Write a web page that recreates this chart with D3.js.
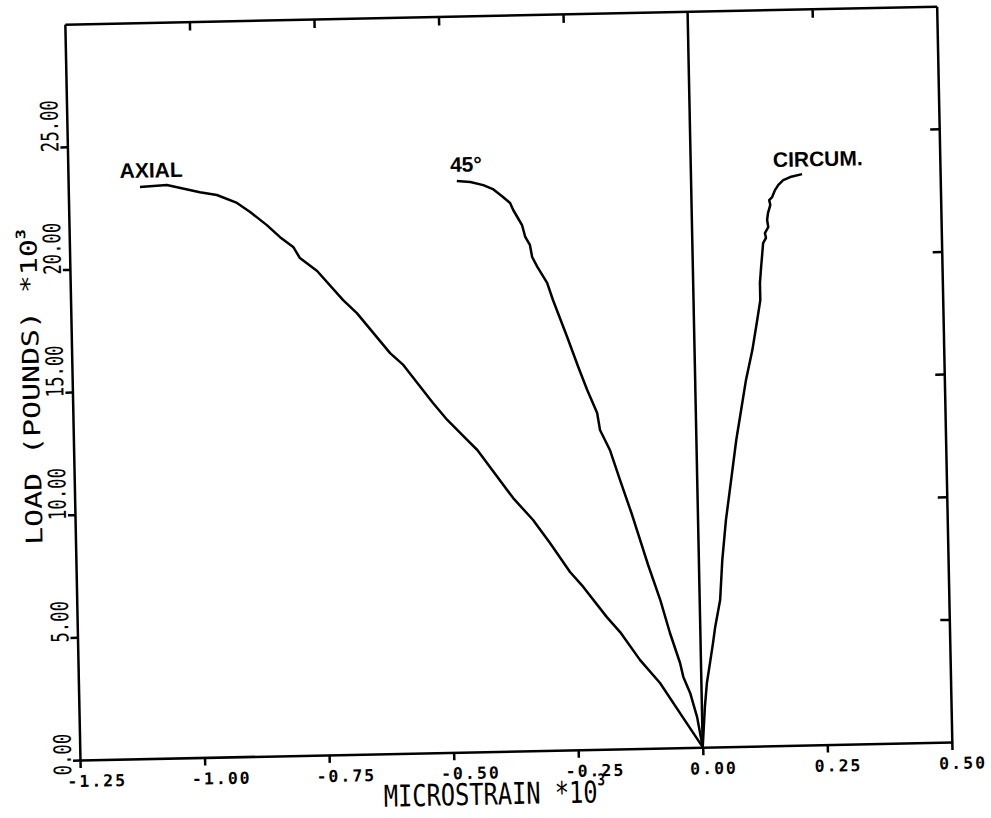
<!DOCTYPE html>
<html>
<head>
<meta charset="utf-8">
<script src="https://cdn.jsdelivr.net/npm/d3@7"></script>
<style>
  html, body { margin: 0; padding: 0; background: #fff; }
  svg { display: block; }
  .x-tick-label { font-family: "DejaVu Sans Mono", monospace; font-size: 16.5px; font-weight: bold; fill: #000; letter-spacing: 2px; }
  .y-tick-label { font-family: "DejaVu Sans Mono", monospace; font-size: 24px; fill: #000; }
  .axis-title { font-family: "DejaVu Sans Mono", monospace; fill: #000; }
  .curve-label { font-family: "Liberation Sans", Arial, sans-serif; font-size: 21px; font-weight: bold; fill: #000; }
</style>
</head>
<body>
<svg id="chart" width="991" height="818"></svg>
<script>
// Strain gauge readings: load (kips) against microstrain (x1000) for three gauge orientations
const axialStrain = [0, -0.038, -0.083, -0.122, -0.161, -0.187, -0.233, -0.259, -0.298, -0.331, -0.370, -0.440, -0.460, -0.499, -0.527, -0.585, -0.611, -0.676, -0.703, -0.754, -0.788, -0.801, -0.827, -0.853, -0.886, -0.912, -0.952, -0.986, -1.052, -1.106];
const axialLoad   = [0, 1.21, 2.65, 3.60, 4.76, 5.38, 6.63, 7.25, 8.45, 9.40, 10.31, 12.30, 12.72, 13.55, 14.25, 15.83, 16.32, 17.98, 18.52, 19.73, 20.27, 20.73, 21.14, 21.64, 22.19, 22.57, 22.91, 23.04, 23.36, 23.30];

const diagStrain = [0, -0.010, -0.023, -0.036, -0.042, -0.061, -0.079, -0.102, -0.132, -0.155, -0.174, -0.193, -0.198, -0.217, -0.234, -0.255, -0.282, -0.293, -0.312, -0.322, -0.326, -0.335, -0.341, -0.349, -0.358, -0.364, -0.378, -0.398, -0.417, -0.443, -0.470];
const diagLoad   = [0, 1.23, 2.22, 2.88, 3.45, 4.68, 6.03, 7.47, 9.52, 10.96, 12.19, 13.01, 13.71, 14.65, 15.60, 16.83, 18.35, 19.05, 19.71, 20.12, 20.61, 20.94, 21.43, 21.72, 22.05, 22.34, 22.59, 22.92, 23.09, 23.23, 23.28];

const circStrain = [0, 0.006, 0.011, 0.018, 0.025, 0.030, 0.041, 0.047, 0.056, 0.068, 0.080, 0.091, 0.102, 0.116, 0.127, 0.134, 0.134, 0.137, 0.140, 0.142, 0.148, 0.146, 0.153, 0.151, 0.153, 0.158, 0.156, 0.162, 0.168, 0.175, 0.185, 0.199, 0.223];
const circLoad   = [0, 1.64, 2.61, 3.42, 4.24, 4.89, 5.98, 7.61, 9.24, 10.86, 12.49, 13.71, 14.93, 16.14, 17.36, 18.17, 18.87, 19.52, 20.09, 20.49, 20.70, 20.90, 21.14, 21.43, 21.71, 22.04, 22.24, 22.36, 22.64, 22.85, 23.04, 23.16, 23.27];

const seriesNames = ["AXIAL", "45°", "CIRCUM."];
// anchor point (strain, load) of each curve's name
const labelStrain = [-1.146, -0.483, 0.165];
const labelLoad   = [23.68, 23.65, 23.58];

const xTicks = [-1.25, -1.00, -0.75, -0.50, -0.25, 0.00, 0.25, 0.50];
const xTickLabels = ["-1.25", "-1.00", "-0.75", "-0.50", "-0.25", "0.00", "0.25", "0.50"];
const yTicks = [0, 5, 10, 15, 20, 25];
const yTickLabels = ["0.00", "5.00", "10.00", "15.00", "20.00", "25.00"];

const W = 872, H = 736;
const svg = d3.select("#chart");
// plotter sheet sits slightly askew
const g = svg.append("g")
  .attr("transform", "translate(80,760) rotate(-1.18) translate(0,-736)");

const x = d3.scaleLinear().domain([-1.25, 0.5]).range([0, W]);
const y = d3.scaleLinear().domain([0, 30]).range([H, 0]);

const axisStyle = sel => {
  sel.selectAll("path, line").attr("stroke", "#000").attr("stroke-width", 2.5);
  sel.selectAll("text").remove();
};

// bottom axis, ticks hanging below
g.append("g").attr("transform", `translate(0,${H})`)
  .call(d3.axisBottom(x).tickValues(xTicks).tickSize(8).tickSizeOuter(0))
  .call(axisStyle);
// top border, ticks pointing down into the frame
g.append("g")
  .call(d3.axisBottom(x).tickValues(xTicks.filter(v => v > -1.25 && v < 0.5 && v !== 0)).tickSize(9).tickSizeOuter(0))
  .call(axisStyle);
// left axis
g.append("g")
  .call(d3.axisLeft(y).tickValues(yTicks).tickSize(7).tickSizeOuter(0))
  .call(axisStyle);
// right border, ticks pointing into the frame
g.append("g").attr("transform", `translate(${W},0)`)
  .call(d3.axisLeft(y).tickValues(yTicks.filter(v => v > 0)).tickSize(9).tickSizeOuter(0))
  .call(axisStyle);

// zero-strain reference line
g.append("line")
  .attr("x1", x(0)).attr("x2", x(0))
  .attr("y1", y(0)).attr("y2", y(30))
  .attr("stroke", "#000").attr("stroke-width", 2.5);

// tick labels
g.selectAll(".xl").data(xTicks).join("text")
  .attr("class", "x-tick-label")
  .attr("x", d => x(d) - 13)
  .attr("y", H + 27)
  .text((d, i) => xTickLabels[i]);

g.selectAll(".yl").data(yTicks).join("text")
  .attr("class", "y-tick-label")
  .attr("transform", d => `translate(-9,${y(d) + (d === 0 ? 15 : 5)}) rotate(-90) scale(0.72,1)`)
  .text((d, i) => yTickLabels[i]);

// axis titles
const xt = g.append("text").attr("class", "axis-title")
  .attr("font-size", "30px")
  .attr("transform", `translate(303,${H + 53}) scale(0.79,1)`);
xt.append("tspan").text("MICROSTRAIN *10");
xt.append("tspan").attr("font-size", "16px").attr("font-weight", "bold").attr("dy", -17).text("3");

const yt = g.append("text").attr("class", "axis-title")
  .attr("font-size", "23px")
  .attr("transform", `translate(-33,${H - 216}) rotate(-90) scale(1.3,1)`);
yt.append("tspan").text("LOAD (POUNDS) *10");
yt.append("tspan").attr("font-size", "13px").attr("font-weight", "bold").attr("dy", -11).text("3");

// curves
const line = d3.line().x(d => x(d[0])).y(d => y(d[1]));
const curves = [
  d3.zip(axialStrain, axialLoad),
  d3.zip(diagStrain, diagLoad),
  d3.zip(circStrain, circLoad)
];
g.selectAll(".curve").data(curves).join("path")
  .attr("d", line)
  .attr("fill", "none")
  .attr("stroke", "#000")
  .attr("stroke-width", 2.5)
  .attr("stroke-linejoin", "round");

g.selectAll(".cl").data(seriesNames).join("text")
  .attr("class", "curve-label")
  .attr("x", (d, i) => x(labelStrain[i]))
  .attr("y", (d, i) => y(labelLoad[i]))
  .text(d => d);
</script>
</body>
</html>
